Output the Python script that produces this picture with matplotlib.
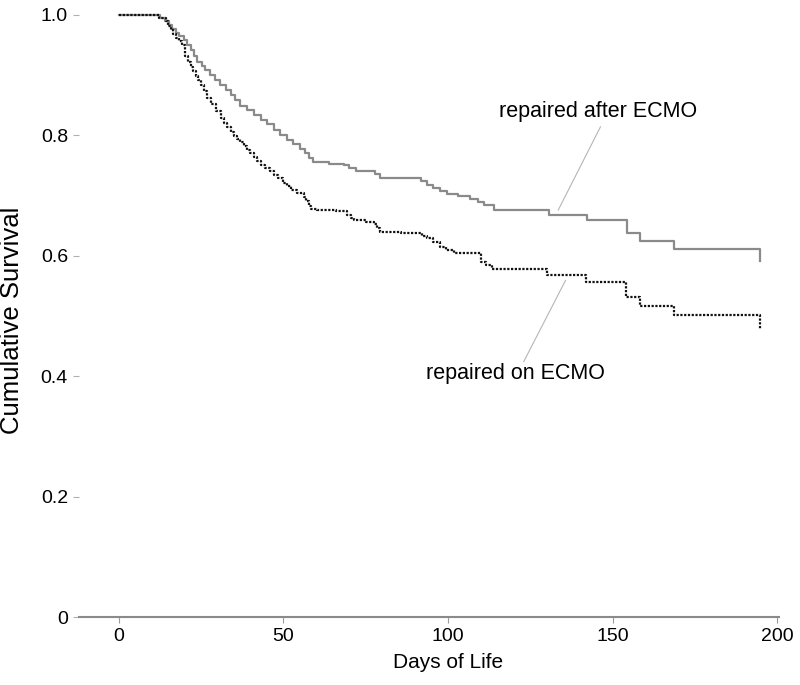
import matplotlib
matplotlib.use("Agg")
import matplotlib.pyplot as plt

plt.rcParams['font.family'] = ['Liberation Sans', 'DejaVu Sans']

# Kaplan-Meier steps (day, cumulative survival)
dias_despues = [0, 12.5, 14, 15.3, 16.3, 17.3, 18.5, 19.8, 20.8, 21.9, 22.9, 23.9,
                25.2, 26.4, 27.9, 29.4, 30.9, 32.5, 34, 35.5, 37, 39, 41, 43.1,
                45, 47.1, 49, 51.2, 53, 55.2, 56.5, 57.8, 59, 64, 68.4, 70, 72,
                78, 79.5, 91.7, 93.7, 95.5, 97.5, 99.8, 103, 106.8, 109, 110.9,
                113.9, 130.6, 142.2, 154.4, 158.4, 168.7, 194.6]
surv_despues = [1.0, 0.995, 0.99, 0.983, 0.977, 0.970, 0.964, 0.958, 0.950, 0.942, 0.932, 0.922,
                0.915, 0.909, 0.900, 0.892, 0.883, 0.875, 0.867, 0.859, 0.849, 0.842, 0.834, 0.826,
                0.818, 0.809, 0.800, 0.792, 0.785, 0.778, 0.770, 0.762, 0.755, 0.753, 0.750, 0.745, 0.741,
                0.735, 0.729, 0.724, 0.718, 0.713, 0.708, 0.703, 0.699, 0.694, 0.689, 0.684,
                0.676, 0.668, 0.659, 0.637, 0.625, 0.611, 0.591]

dias_en = [0, 12.2, 14.3, 15.1, 15.8, 16.5, 17.3, 18.3, 19.3, 20.3, 21.1, 21.9, 22.7,
           23.4, 24.2, 24.9, 25.9, 26.9, 28, 29.5, 31, 32, 33, 34, 35, 36, 37, 38, 39,
           40, 41, 42, 43.1, 44.5, 46, 47.1, 48.5, 50, 51.2, 52.5, 54.2, 56.2, 57,
           57.8, 58.5, 60.3, 66, 69.4, 70.5, 71.4, 75, 77.5, 78.5, 79.5, 85.6, 92.2,
           93.7, 95.5, 97.7, 99.5, 101.8, 109.9, 111.5, 113.4, 130.1, 142, 154.2,
           158.4, 168.7, 194.6]
surv_en = [1.0, 0.995, 0.989, 0.982, 0.975, 0.968, 0.961, 0.956, 0.950, 0.931, 0.922, 0.914, 0.906,
           0.898, 0.891, 0.884, 0.873, 0.862, 0.852, 0.840, 0.828, 0.820, 0.813, 0.805, 0.798, 0.793,
           0.788, 0.782, 0.776, 0.770, 0.764, 0.758, 0.751, 0.746, 0.740, 0.734, 0.729, 0.721, 0.715,
           0.709, 0.704, 0.698, 0.690, 0.682, 0.678, 0.676, 0.674, 0.668, 0.663, 0.659, 0.656, 0.652,
           0.646, 0.640, 0.637, 0.633, 0.629, 0.622, 0.615, 0.610, 0.604, 0.590, 0.584, 0.578,
           0.568, 0.557, 0.532, 0.517, 0.502, 0.478]

ticks_x = [0, 50, 100, 150, 200]
ticks_y = [0, 0.2, 0.4, 0.6, 0.8, 1.0]
etiquetas_y = ["0", "0.2", "0.4", "0.6", "0.8", "1.0"]

fig = plt.figure(figsize=(8, 6.85), dpi=100)
ax = fig.add_axes([79 / 800, 1 - 617 / 685, 700 / 800, 607 / 685])

ax.plot(dias_despues, surv_despues, drawstyle="steps-post", color="#8a8a8a", lw=1.6)
ax.plot(dias_en, surv_en, drawstyle="steps-post", color="#111111", lw=1.6,
        linestyle=(0, (1, 0.7)))

ax.set_xlim(-12, 200.5)
ax.set_ylim(0, 1.008)

for lado in ["top", "right", "left"]:
    ax.spines[lado].set_visible(False)
ax.spines["bottom"].set_color("#8a8a8a")
ax.spines["bottom"].set_linewidth(1.5)

ax.set_xticks(ticks_x)
ax.set_yticks(ticks_y)
ax.set_yticklabels(etiquetas_y)
ax.tick_params(axis="x", length=4, width=0.8, color="#9a9a9a", labelsize=14, pad=4)
ax.tick_params(axis="y", length=4, width=0.8, color="#b0b0b0", labelsize=14, pad=4)

# etiquetas de las curvas con linea guia
ax.text(145.7, 0.839, "repaired after ECMO", fontsize=15.5, ha="center", va="center")
ax.plot([146.3, 133.5], [0.814, 0.676], color="#b5b5b5", lw=0.8)
ax.text(120.5, 0.405, "repaired on ECMO", fontsize=15.5, ha="center", va="center")
ax.plot([123.0, 135.7], [0.424, 0.559], color="#b5b5b5", lw=0.8)

fig.text(448 / 800, 1 - 663 / 685, "Days of Life", fontsize=15, ha="center", va="center")
fig.text(12 / 800, 1 - 320 / 685, "Cumulative Survival", fontsize=18.5, ha="center",
         va="center", rotation=90)

fig.savefig("out.png", dpi=100)
